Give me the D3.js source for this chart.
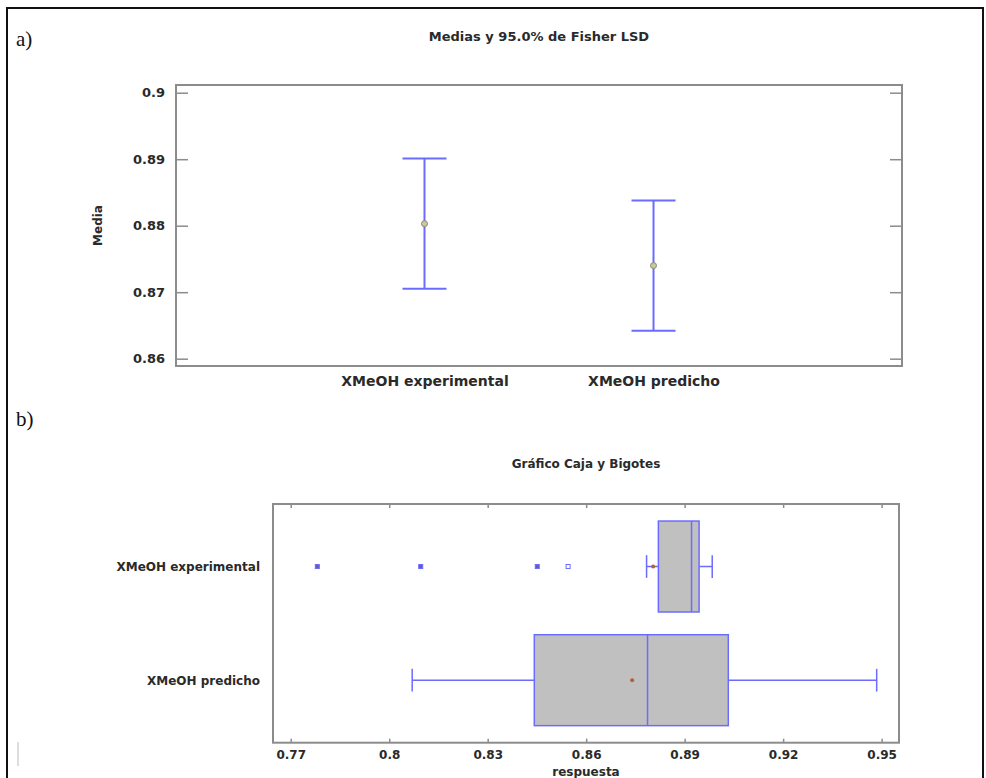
<!DOCTYPE html>
<html>
<head>
<meta charset="utf-8">
<script src="https://cdn.jsdelivr.net/npm/d3@7"></script>
<style>
  html, body { margin: 0; padding: 0; background: #fff; }
  svg { display: block; }
  text { font-family: "DejaVu Sans", Verdana, sans-serif; font-weight: bold; fill: #2a2a2a; }
</style>
</head>
<body>
<svg id="chart" width="986" height="778"></svg>
<script>
// ---------- DATA ----------
const categories = ["XMeOH experimental", "XMeOH predicho"];
// a) Means and 95.0% Fisher LSD intervals
const means = [0.8803, 0.8740];
const lsdLower = [0.8705, 0.8642];
const lsdUpper = [0.8901, 0.8838];
const meanTicks = [0.86, 0.87, 0.88, 0.89, 0.90];
// b) Box and whisker
const boxLow = [0.8784, 0.8070];
const boxQ1 = [0.8820, 0.8442];
const boxMedian = [0.8921, 0.8787];
const boxQ3 = [0.8944, 0.9033];
const boxHigh = [0.8984, 0.9485];
const boxMean = [0.8804, 0.8740];
const outlierCategory = ["XMeOH experimental", "XMeOH experimental", "XMeOH experimental", "XMeOH experimental"];
const outlierValue = [0.7781, 0.8096, 0.8451, 0.8545];
const outlierFilled = [true, true, true, false];
const respTicks = [0.77, 0.80, 0.83, 0.86, 0.89, 0.92, 0.95];
const respTickLabels = ["0.77", "0.8", "0.83", "0.86", "0.89", "0.92", "0.95"];

// ---------- STYLE ----------
const axisGray = "#8c8c8c";
const blue = "#6b6bff";
const svg = d3.select("#chart");

// outer frame
svg.append("path")
  .attr("d", "M7,790 L7,8 L983,8 L983,790")
  .attr("fill", "none").attr("stroke", "#111").attr("stroke-width", 2);
svg.append("line").attr("x1", 18).attr("x2", 18).attr("y1", 742).attr("y2", 766)
  .attr("stroke", "#bbb").attr("stroke-width", 1);

svg.append("text").attr("x", 16).attr("y", 46).text("a)")
  .style("font-family", "'Liberation Serif', serif").style("font-weight", "normal")
  .style("font-size", "21px").style("fill", "#111");
svg.append("text").attr("x", 16).attr("y", 426).text("b)")
  .style("font-family", "'Liberation Serif', serif").style("font-weight", "normal")
  .style("font-size", "21px").style("fill", "#111");

// ================= a) =================
const A = { left: 176, right: 902, top: 85, bottom: 366 };
const yA = d3.scaleLinear().domain([0.8589, 0.90116]).range([A.bottom, A.top]);
const xA = d3.scalePoint().domain(categories).range([A.left, A.right]).padding(1.085);

svg.append("text").attr("x", (A.left + A.right) / 2).attr("y", 41)
  .attr("text-anchor", "middle").style("font-size", "13px").text("Medias y 95.0% de Fisher LSD");

const gyA = svg.append("g").attr("transform", `translate(${A.left},0)`)
  .call(d3.axisLeft(yA).tickValues(meanTicks).tickSize(-12).tickPadding(11).tickFormat(d3.format("")));
gyA.select(".domain").remove();
gyA.selectAll("line").attr("stroke", axisGray).attr("stroke-width", 1.5);
gyA.selectAll("text").style("font-size", "13px").style("fill", "#2a2a2a");

const gyA2 = svg.append("g").attr("transform", `translate(${A.right},0)`)
  .call(d3.axisRight(yA).tickValues(meanTicks).tickSize(-12).tickFormat(""));
gyA2.select(".domain").remove();
gyA2.selectAll("line").attr("stroke", axisGray).attr("stroke-width", 1.5);

const gxA = svg.append("g").attr("transform", `translate(0,${A.bottom})`)
  .call(d3.axisBottom(xA).tickSize(0).tickPadding(10));
gxA.select(".domain").remove();
gxA.selectAll("text").style("font-size", "14px").style("fill", "#2a2a2a");

svg.append("rect").attr("x", A.left).attr("y", A.top)
  .attr("width", A.right - A.left).attr("height", A.bottom - A.top)
  .attr("fill", "none").attr("stroke", axisGray).attr("stroke-width", 2);

svg.append("text").attr("transform", `translate(102,${(A.top + A.bottom) / 2}) rotate(-90)`)
  .attr("text-anchor", "middle").style("font-size", "12px").text("Media");

const capW = 22;
const eb = svg.append("g").selectAll("g").data(categories).join("g");
eb.append("line").attr("x1", (d) => xA(d)).attr("x2", (d) => xA(d))
  .attr("y1", (d, i) => yA(lsdLower[i])).attr("y2", (d, i) => yA(lsdUpper[i]))
  .attr("stroke", blue).attr("stroke-width", 2);
eb.append("line").attr("x1", (d) => xA(d) - capW).attr("x2", (d) => xA(d) + capW)
  .attr("y1", (d, i) => yA(lsdUpper[i])).attr("y2", (d, i) => yA(lsdUpper[i]))
  .attr("stroke", blue).attr("stroke-width", 2);
eb.append("line").attr("x1", (d) => xA(d) - capW).attr("x2", (d) => xA(d) + capW)
  .attr("y1", (d, i) => yA(lsdLower[i])).attr("y2", (d, i) => yA(lsdLower[i]))
  .attr("stroke", blue).attr("stroke-width", 2);
eb.append("circle").attr("cx", (d) => xA(d)).attr("cy", (d, i) => yA(means[i])).attr("r", 3)
  .attr("fill", "#c8c8a0").attr("stroke", "#8a8a70").attr("stroke-width", 1);

// ================= b) =================
const B = { left: 273, right: 899, top: 504, bottom: 742.7 };
const xB = d3.scaleLinear().domain([0.7646, 0.9553]).range([B.left, B.right]);
const yB = d3.scalePoint().domain(categories).range([B.top, B.bottom]).padding(0.55);
const boxHalf = yB.step() * 0.4;
const whiskHalf = yB.step() * 0.1;

svg.append("text").attr("x", (B.left + B.right) / 2).attr("y", 468)
  .attr("text-anchor", "middle").style("font-size", "12px").text("Gráfico Caja y Bigotes");

const gxB = svg.append("g").attr("transform", `translate(0,${B.bottom})`)
  .call(d3.axisBottom(xB).tickValues(respTicks).tickSize(-4).tickPadding(8)
    .tickFormat((d, i) => respTickLabels[i]));
gxB.select(".domain").remove();
gxB.selectAll("line").attr("stroke", axisGray).attr("stroke-width", 1.5);
gxB.selectAll("text").style("font-size", "12px").style("fill", "#2a2a2a");

const gxB2 = svg.append("g").attr("transform", `translate(0,${B.top})`)
  .call(d3.axisTop(xB).tickValues(respTicks).tickSize(-4).tickFormat(""));
gxB2.select(".domain").remove();
gxB2.selectAll("line").attr("stroke", axisGray).attr("stroke-width", 1.5);

const gyB = svg.append("g").attr("transform", `translate(${B.left},0)`)
  .call(d3.axisLeft(yB).tickSize(0).tickPadding(13));
gyB.select(".domain").remove();
gyB.selectAll("text").style("font-size", "12px").style("fill", "#2a2a2a");

svg.append("rect").attr("x", B.left).attr("y", B.top)
  .attr("width", B.right - B.left).attr("height", B.bottom - B.top)
  .attr("fill", "none").attr("stroke", axisGray).attr("stroke-width", 2);

svg.append("text").attr("x", (B.left + B.right) / 2).attr("y", 776)
  .attr("text-anchor", "middle").style("font-size", "12px").text("respuesta");

const bx = svg.append("g").selectAll("g").data(categories).join("g");
// whiskers
bx.append("line").attr("x1", (d, i) => xB(boxLow[i])).attr("x2", (d, i) => xB(boxQ1[i]))
  .attr("y1", (d) => yB(d)).attr("y2", (d) => yB(d)).attr("stroke", blue).attr("stroke-width", 1.5);
bx.append("line").attr("x1", (d, i) => xB(boxQ3[i])).attr("x2", (d, i) => xB(boxHigh[i]))
  .attr("y1", (d) => yB(d)).attr("y2", (d) => yB(d)).attr("stroke", blue).attr("stroke-width", 1.5);
bx.append("line").attr("x1", (d, i) => xB(boxLow[i])).attr("x2", (d, i) => xB(boxLow[i]))
  .attr("y1", (d) => yB(d) - whiskHalf).attr("y2", (d) => yB(d) + whiskHalf)
  .attr("stroke", blue).attr("stroke-width", 1.5);
bx.append("line").attr("x1", (d, i) => xB(boxHigh[i])).attr("x2", (d, i) => xB(boxHigh[i]))
  .attr("y1", (d) => yB(d) - whiskHalf).attr("y2", (d) => yB(d) + whiskHalf)
  .attr("stroke", blue).attr("stroke-width", 1.5);
// box
bx.append("rect").attr("x", (d, i) => xB(boxQ1[i])).attr("y", (d) => yB(d) - boxHalf)
  .attr("width", (d, i) => xB(boxQ3[i]) - xB(boxQ1[i])).attr("height", boxHalf * 2)
  .attr("fill", "#c0c0c0").attr("stroke", blue).attr("stroke-width", 1.5);
bx.append("line").attr("x1", (d, i) => xB(boxMedian[i])).attr("x2", (d, i) => xB(boxMedian[i]))
  .attr("y1", (d) => yB(d) - boxHalf).attr("y2", (d) => yB(d) + boxHalf)
  .attr("stroke", blue).attr("stroke-width", 1.5);
bx.append("circle").attr("cx", (d, i) => xB(boxMean[i])).attr("cy", (d) => yB(d)).attr("r", 2)
  .attr("fill", "#b0603a");
// outliers
svg.append("g").selectAll("rect").data(outlierValue).join("rect")
  .attr("x", (d) => xB(d) - 2).attr("y", (d, i) => yB(outlierCategory[i]) - 2)
  .attr("width", 4).attr("height", 4)
  .attr("fill", (d, i) => outlierFilled[i] ? "#6a5ab0" : "#fff")
  .attr("stroke", blue).attr("stroke-width", 1);
</script>
</body>
</html>
